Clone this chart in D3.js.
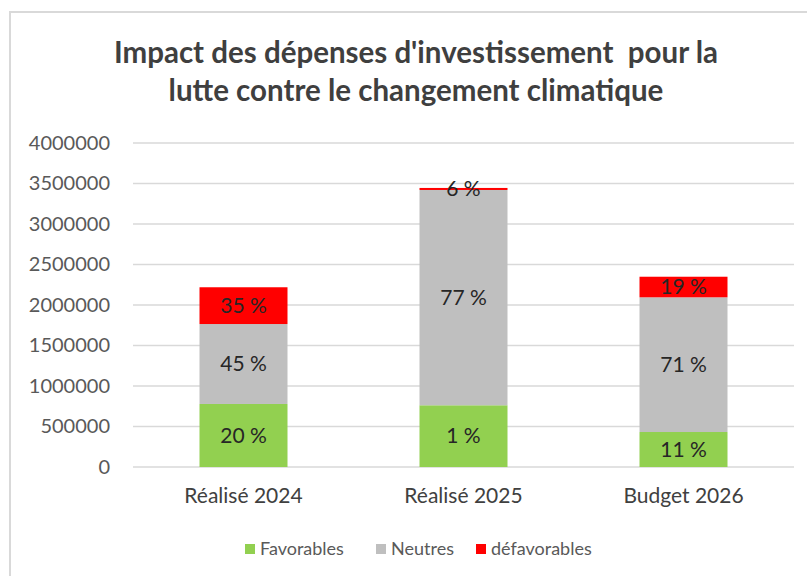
<!DOCTYPE html>
<html>
<head>
<meta charset="utf-8">
<script src="https://cdn.jsdelivr.net/npm/d3@7"></script>
<style>
  body { margin: 0; background: #fff; }
  svg { display: block; font-family: Lato, "Open Sans", sans-serif; }
</style>
</head>
<body>
<svg id="chart" width="807" height="576"></svg>
<script>
// data
var categories = ['Réalisé 2024', 'Réalisé 2025', 'Budget 2026'];
var seriesNames = ['Favorables', 'Neutres', 'défavorables'];
var favorables = [778000, 762000, 432000];
var neutres = [987000, 2658000, 1663000];
var defavorables = [454000, 25000, 254000];
var labelsFav = ['20 %', '1 %', '11 %'];
var labelsNeu = ['45 %', '77 %', '71 %'];
var labelsDef = ['35 %', '6 %', '19 %'];
var yTicks = [0, 500000, 1000000, 1500000, 2000000, 2500000, 3000000, 3500000, 4000000];

var colors = ['#92d050', '#bfbfbf', '#ff0000'];

var svg = d3.select('#chart');
var width = +svg.attr('width');
var height = +svg.attr('height');

// frame of the chart area
svg.append('rect')
  .attr('x', 10).attr('y', 12)
  .attr('width', width + 10).attr('height', height + 10)
  .attr('fill', 'none')
  .attr('stroke', '#d9d9d9')
  .attr('stroke-width', 2);

var rows = categories.map(function(c, i) {
  return { cat: c, Favorables: favorables[i], Neutres: neutres[i], 'défavorables': defavorables[i] };
});
var labels = [labelsFav, labelsNeu, labelsDef];

var x = d3.scaleBand()
  .domain(categories)
  .range([133.5, 793.5])
  .paddingInner(0.6)
  .paddingOuter(0.3);

var y = d3.scaleLinear()
  .domain([0, 4000000])
  .range([467, 143]);

// gridlines
svg.append('g')
  .selectAll('line')
  .data(yTicks)
  .join('line')
  .attr('x1', 133).attr('x2', 794)
  .attr('y1', function(d) { return y(d); })
  .attr('y2', function(d) { return y(d); })
  .attr('stroke', '#d9d9d9')
  .attr('stroke-width', 1.5);

// y axis labels
var yAxis = d3.axisLeft(y)
  .tickValues(yTicks)
  .tickFormat(d3.format('d'))
  .tickSize(0)
  .tickPadding(0);

var ga = svg.append('g')
  .attr('transform', 'translate(110,0)')
  .call(yAxis);
ga.select('.domain').remove();
ga.selectAll('text')
  .attr('fill', '#595959')
  .style('font-family', 'Lato, sans-serif')
  .style('font-size', '20px');

var stack = d3.stack().keys(seriesNames);
var stacked = stack(rows);

var layers = svg.append('g')
  .selectAll('g')
  .data(stacked)
  .join('g')
  .attr('fill', function(d, i) { return colors[i]; });

layers.selectAll('rect')
  .data(function(d) { return d; })
  .join('rect')
  .attr('x', function(d) { return x(d.data.cat); })
  .attr('width', x.bandwidth())
  .attr('y', function(d) { return y(d[1]); })
  .attr('height', function(d) { return y(d[0]) - y(d[1]); });

// percentage labels
stacked.forEach(function(layer, si) {
  svg.append('g')
    .selectAll('text')
    .data(layer)
    .join('text')
    .attr('x', function(d) { return x(d.data.cat) + x.bandwidth() / 2; })
    .attr('y', function(d) { return (y(d[0]) + y(d[1])) / 2; })
    .attr('dy', '0.35em')
    .attr('text-anchor', 'middle')
    .attr('fill', '#262626')
    .style('font-size', '21px')
    .text(function(d, i) { return labels[si][i]; });
});

// x axis labels
var xAxis = d3.axisBottom(x).tickSize(0).tickPadding(0);
var gx = svg.append('g')
  .attr('transform', 'translate(0,488)')
  .call(xAxis);
gx.select('.domain').remove();
gx.selectAll('text')
  .attr('fill', '#404040')
  .style('font-family', 'Lato, sans-serif')
  .style('font-size', '21px');

// title
var title = svg.append('text')
  .attr('text-anchor', 'middle')
  .attr('fill', '#3f3f3f')
  .style('font-size', '29.5px')
  .style('font-weight', 'bold')
  .style('white-space', 'pre');
title.append('tspan').attr('x', 416).attr('y', 63)
  .text("Impact des dépenses d'investissement  pour la");
title.append('tspan').attr('x', 416).attr('y', 101)
  .text('lutte contre le changement climatique');

// legend
var legendX = [245, 376, 476];
var legend = svg.append('g')
  .selectAll('g')
  .data(seriesNames)
  .join('g')
  .attr('transform', function(d, i) { return 'translate(' + legendX[i] + ',549)'; });
legend.append('rect')
  .attr('x', 0).attr('y', -5)
  .attr('width', 10).attr('height', 10)
  .attr('fill', function(d, i) { return colors[i]; });
legend.append('text')
  .attr('x', 15)
  .attr('dy', '0.35em')
  .attr('fill', '#595959')
  .style('font-size', '18px')
  .text(function(d) { return d; });
</script>
</body>
</html>
